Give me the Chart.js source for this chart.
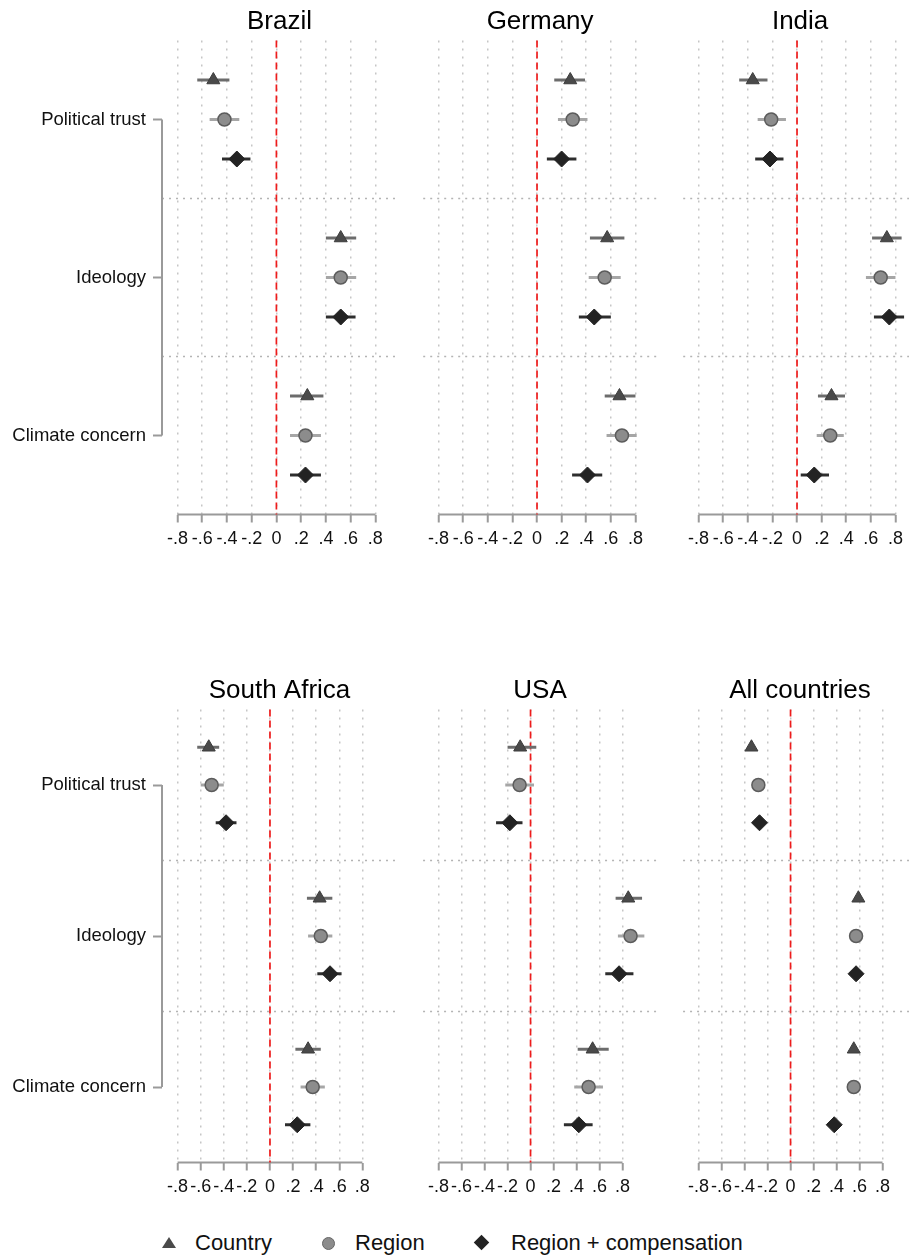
<!DOCTYPE html>
<html>
<head>
    <title>Coefficient plots by country</title>
    <script src="https://cdn.jsdelivr.net/npm/chart.js@4.4.0/dist/chart.umd.min.js"></script>
    <style>
        html, body {
            margin: 0;
            padding: 0;
            overflow: hidden;
        }
        body {
            width: 909px;
            height: 1256px;
            position: relative;
            background: #fff;
            font-family: "Liberation Sans", Arial, sans-serif;
        }
        canvas {
            position: absolute;
        }
        .leg {
            position: absolute;
            top: 1229px;
            font-size: 22px;
            line-height: 28px;
            color: #111;
            white-space: nowrap;
        }
        .sym {
            position: absolute;
        }
        .tri {
            width: 0;
            height: 0;
            border-left: 7px solid transparent;
            border-right: 7px solid transparent;
            border-bottom: 11px solid #4a4a4a;
        }
        .circ {
            width: 11px;
            height: 11px;
            border-radius: 50%;
            background: #8c8c8c;
            border: 1px solid #666;
        }
        .diam {
            width: 11px;
            height: 11px;
            background: #232323;
            transform: rotate(45deg);
        }
    </style>
</head>
<body>
    <canvas id="c0" width="397" height="560" style="left:0px;top:0px"></canvas>
    <canvas id="c1" width="235" height="560" style="left:422px;top:0px"></canvas>
    <canvas id="c2" width="235" height="560" style="left:682px;top:0px"></canvas>
    <canvas id="c3" width="397" height="539" style="left:0px;top:669px"></canvas>
    <canvas id="c4" width="235" height="539" style="left:422px;top:669px"></canvas>
    <canvas id="c5" width="235" height="539" style="left:682px;top:669px"></canvas>

    <div class="sym tri" style="left:162px;top:1237px"></div>
    <div class="leg" style="left:195px">Country</div>
    <div class="sym circ" style="left:322px;top:1237px"></div>
    <div class="leg" style="left:355px">Region</div>
    <div class="sym diam" style="left:476px;top:1237px"></div>
    <div class="leg" style="left:511px">Region + compensation</div>

    <script>
        const panelNames = ['Brazil', 'Germany', 'India', 'South Africa', 'USA', 'All countries'];
        const variables = ['Political trust', 'Ideology', 'Climate concern'];
        const models = ['Country', 'Region', 'Region + compensation'];
        const xTicks = [-0.8, -0.6, -0.4, -0.2, 0, 0.2, 0.4, 0.6, 0.8];

        // one row per panel: [Political trust, Ideology, Climate concern]
        const countryEst = [
            [-0.51, 0.52, 0.25],
            [0.27, 0.57, 0.67],
            [-0.36, 0.73, 0.28],
            [-0.53, 0.43, 0.33],
            [-0.09, 0.85, 0.54],
            [-0.34, 0.59, 0.55]
        ];
        const countryLo = [
            [-0.64, 0.40, 0.11],
            [0.14, 0.43, 0.55],
            [-0.47, 0.61, 0.17],
            [-0.63, 0.32, 0.22],
            [-0.20, 0.74, 0.41],
            [-0.37, 0.56, 0.52]
        ];
        const countryHi = [
            [-0.38, 0.645, 0.38],
            [0.39, 0.71, 0.80],
            [-0.24, 0.85, 0.39],
            [-0.44, 0.54, 0.44],
            [0.05, 0.97, 0.68],
            [-0.31, 0.62, 0.58]
        ];
        const regionEst = [
            [-0.42, 0.52, 0.235],
            [0.29, 0.55, 0.69],
            [-0.21, 0.68, 0.27],
            [-0.505, 0.44, 0.37],
            [-0.095, 0.87, 0.505],
            [-0.28, 0.57, 0.55]
        ];
        const regionLo = [
            [-0.54, 0.40, 0.11],
            [0.17, 0.42, 0.565],
            [-0.32, 0.56, 0.16],
            [-0.60, 0.33, 0.265],
            [-0.22, 0.76, 0.38],
            [-0.31, 0.54, 0.52]
        ];
        const regionHi = [
            [-0.30, 0.645, 0.36],
            [0.41, 0.68, 0.81],
            [-0.09, 0.80, 0.38],
            [-0.40, 0.54, 0.475],
            [0.03, 0.99, 0.63],
            [-0.25, 0.60, 0.58]
        ];
        const compEst = [
            [-0.32, 0.52, 0.235],
            [0.20, 0.465, 0.41],
            [-0.22, 0.75, 0.14],
            [-0.38, 0.52, 0.236],
            [-0.18, 0.77, 0.42],
            [-0.27, 0.57, 0.38]
        ];
        const compLo = [
            [-0.44, 0.40, 0.11],
            [0.08, 0.34, 0.285],
            [-0.34, 0.625, 0.03],
            [-0.47, 0.41, 0.13],
            [-0.30, 0.65, 0.29],
            [-0.30, 0.54, 0.35]
        ];
        const compHi = [
            [-0.21, 0.64, 0.36],
            [0.32, 0.60, 0.53],
            [-0.11, 0.87, 0.26],
            [-0.29, 0.62, 0.35],
            [-0.07, 0.895, 0.54],
            [-0.24, 0.60, 0.41]
        ];

        const FONT = '"Liberation Sans", Arial, sans-serif';

        function fmtTick(v) {
            if (Math.abs(v) < 1e-9) return '0';
            return (v < 0 ? '-' : '') + '.' + Math.round(Math.abs(v) * 10);
        }

        // error bars, group separators, zero line, axis line, y bracket
        const marksPlugin = {
            id: 'marks',
            beforeDatasetsDraw(chart) {
                const ctx = chart.ctx;
                const a = chart.chartArea;
                const x = chart.scales.x;
                const y = chart.scales.y;
                const line = (x1, y1, x2, y2) => {
                    ctx.beginPath();
                    ctx.moveTo(x1, y1);
                    ctx.lineTo(x2, y2);
                    ctx.stroke();
                };
                ctx.save();

                ctx.strokeStyle = '#b4b4b4';
                ctx.lineWidth = 1.5;
                ctx.setLineDash([2, 5]);
                for (let i = 1; i < variables.length; i++) {
                    const py = y.getPixelForValue(i * 4);
                    line(a.left, py, a.right, py);
                }

                ctx.setLineDash([]);
                ctx.strokeStyle = '#9a9a9a';
                ctx.lineWidth = 2;
                line(x.getPixelForValue(xTicks[0]), a.bottom, x.getPixelForValue(xTicks[xTicks.length - 1]), a.bottom);
                if (y.options.display) {
                    line(a.left, y.getPixelForValue(2), a.left, y.getPixelForValue(4 * variables.length - 2));
                }

                ctx.strokeStyle = '#ee1c1c';
                ctx.lineWidth = 1.7;
                ctx.setLineDash([7, 4]);
                const zx = x.getPixelForValue(0);
                line(zx, a.top, zx, a.bottom);
                ctx.setLineDash([]);

                ctx.lineWidth = 3;
                chart.data.datasets.forEach(ds => {
                    ctx.strokeStyle = ds.ciColor;
                    ds.data.forEach(p => {
                        const py = y.getPixelForValue(p.y);
                        line(x.getPixelForValue(p.lo), py, x.getPixelForValue(p.hi), py);
                    });
                });
                ctx.restore();
            }
        };

        function points(est, lo, hi, panel, slot) {
            return variables.map((v, i) => ({
                x: est[panel][i],
                y: i * 4 + slot + 1,
                lo: lo[panel][i],
                hi: hi[panel][i]
            }));
        }

        function makePanel(panel) {
            const top = panel < 3;
            const showY = panel % 3 === 0;
            const ctx = document.getElementById('c' + panel).getContext('2d');
            new Chart(ctx, {
                type: 'scatter',
                data: {
                    datasets: [{
                        label: models[0],
                        data: points(countryEst, countryLo, countryHi, panel, 0),
                        pointStyle: 'triangle',
                        pointRadius: 7.5,
                        backgroundColor: '#4a4a4a',
                        borderColor: '#3c3c3c',
                        borderWidth: 1,
                        ciColor: '#6c6c6c',
                        clip: false
                    }, {
                        label: models[1],
                        data: points(regionEst, regionLo, regionHi, panel, 1),
                        pointStyle: 'circle',
                        pointRadius: 6.5,
                        backgroundColor: '#8c8c8c',
                        borderColor: '#5c5c5c',
                        borderWidth: 1.5,
                        ciColor: '#a6a6a6',
                        clip: false
                    }, {
                        label: models[2],
                        data: points(compEst, compLo, compHi, panel, 2),
                        pointStyle: 'rectRot',
                        pointRadius: 8,
                        backgroundColor: '#232323',
                        borderColor: '#232323',
                        borderWidth: 1,
                        ciColor: '#2e2e2e',
                        clip: false
                    }]
                },
                options: {
                    responsive: false,
                    animation: false,
                    events: [],
                    layout: { padding: 0, autoPadding: false },
                    plugins: {
                        legend: { display: false },
                        tooltip: { enabled: false },
                        title: {
                            display: true,
                            text: panelNames[panel],
                            fullSize: false,
                            color: '#000',
                            font: { family: FONT, size: 26, weight: 'normal', lineHeight: 1.2 },
                            padding: { top: 6, bottom: 3.3 }
                        }
                    },
                    scales: {
                        x: {
                            type: 'linear',
                            min: top ? -0.925 : -0.935,
                            max: top ? 0.975 : 1.1,
                            afterBuildTicks: s => { s.ticks = xTicks.map(v => ({ value: v })); },
                            afterFit: s => { s.height = 45.5; },
                            ticks: {
                                autoSkip: false,
                                maxRotation: 0,
                                minRotation: 0,
                                padding: 6,
                                color: '#111',
                                font: { family: FONT, size: 18 },
                                callback: v => fmtTick(v)
                            },
                            grid: {
                                color: '#c6c6c6',
                                lineWidth: 1.5,
                                drawTicks: true,
                                tickLength: 8,
                                tickColor: '#9a9a9a',
                                tickWidth: 2,
                                tickBorderDash: []
                            },
                            border: { display: false, dash: [2, 6] }
                        },
                        y: {
                            type: 'linear',
                            display: showY,
                            reverse: true,
                            min: 0,
                            max: 4 * variables.length,
                            afterBuildTicks: s => { s.ticks = variables.map((v, i) => ({ value: i * 4 + 2 })); },
                            afterFit: s => { s.width = showY ? 162 : 0; },
                            ticks: {
                                autoSkip: false,
                                padding: 7,
                                color: '#111',
                                font: { family: FONT, size: 18.5 },
                                callback: v => variables[Math.round((v - 2) / 4)]
                            },
                            grid: {
                                drawOnChartArea: false,
                                drawTicks: true,
                                tickLength: 9,
                                tickColor: '#9a9a9a',
                                tickWidth: 2
                            },
                            border: { display: false }
                        }
                    }
                },
                plugins: [marksPlugin]
            });
        }

        for (let p = 0; p < panelNames.length; p++) {
            makePanel(p);
        }
    </script>
</body>
</html>
